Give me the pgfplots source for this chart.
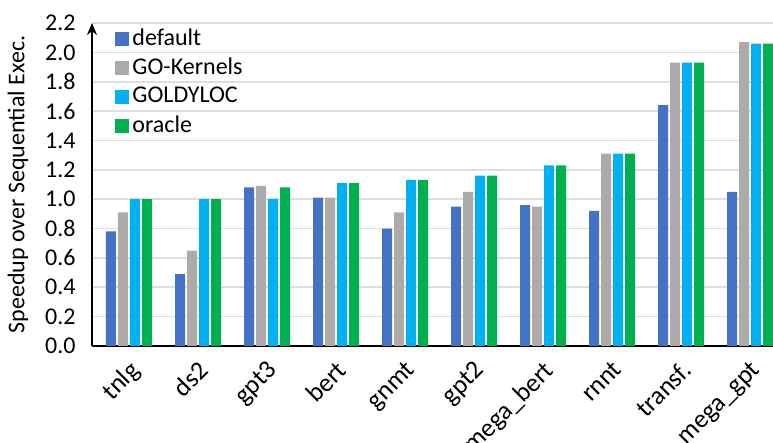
\documentclass[border=0pt]{standalone}
\usepackage{fontspec}
\setmainfont{Carlito}
\usepackage{pgfplots}
\pgfplotsset{compat=1.18}
\usetikzlibrary{arrows.meta}
\definecolor{cdef}{HTML}{4472C4}
\definecolor{cgo}{HTML}{AEAAAA}
\definecolor{cgold}{HTML}{00B0F0}
\definecolor{cor}{HTML}{00B050}
\begin{document}
\begin{tikzpicture}
\fontsize{12}{14}\selectfont
\useasboundingbox (0,0) rectangle (386.5pt,221.5pt);
\begin{axis}[
  at={(46pt,48.5pt)}, anchor=south west,
  scale only axis, width=340.5pt, height=161.5pt,
  xmin=-0.536, xmax=9.33, ymin=0, ymax=2.2,
  ybar, bar width=0.145,
  xtick={0,1,2,3,4,5,6,7,8,9},
  xticklabels={tnlg,ds2,gpt3,bert,gnmt,gpt2,mega\_bert,rnnt,transf.,mega\_gpt},
  ytick={0,0.2,0.4,0.6,0.8,1.0,1.2,1.4,1.6,1.8,2.0,2.2},
  axis x line=bottom, axis y line=left,
  x axis line style={-, line width=1.3pt},
  y axis line style={line width=1pt, -{Stealth[length=6pt,width=5pt]}},
  ymajorgrids, grid style={line width=0.8pt, black!13},
  major tick length=0pt,
  tick label style={font=\fontsize{12}{14}\selectfont},
  /pgf/number format/assume math mode=true,
  yticklabel style={/pgf/number format/fixed, /pgf/number format/fixed zerofill, /pgf/number format/precision=1, xshift=-4pt},
  xticklabel style={font=\fontsize{13}{15}\selectfont, inner sep=0pt, xshift=-0.5pt, yshift=-6.5pt, rotate=45, anchor=north east},
  ylabel={Speedup over Sequential Exec.},
  ylabel style={at={(axis description cs:-0.1087,0.5)}, anchor=center, font=\fontsize{12}{14}\selectfont},
  legend cell align=left,
  legend image code/.code={\fill[#1] (0pt,-3.5pt) rectangle (7pt,3.5pt);},
  legend style={at={(0.025,1.005)}, anchor=north west, draw=none, fill=none,
    font=\fontsize{12}{14}\selectfont, row sep=1.5pt, nodes={inner sep=1.5pt}},
]
\addplot[fill=cdef, draw=none, bar shift=-0.261] coordinates {(0,0.78) (1,0.49) (2,1.08) (3,1.01) (4,0.80) (5,0.95) (6,0.96) (7,0.92) (8,1.64) (9,1.05)};
\addplot[fill=cgo, draw=none, bar shift=-0.087] coordinates {(0,0.91) (1,0.65) (2,1.09) (3,1.01) (4,0.91) (5,1.05) (6,0.95) (7,1.31) (8,1.93) (9,2.07)};
\addplot[fill=cgold, draw=none, bar shift=0.087] coordinates {(0,1.0) (1,1.0) (2,1.0) (3,1.11) (4,1.13) (5,1.16) (6,1.23) (7,1.31) (8,1.93) (9,2.06)};
\addplot[fill=cor, draw=none, bar shift=0.261] coordinates {(0,1.0) (1,1.0) (2,1.08) (3,1.11) (4,1.13) (5,1.16) (6,1.23) (7,1.31) (8,1.93) (9,2.06)};
\legend{default,GO-Kernels,GOLDYLOC,oracle}
\end{axis}
\end{tikzpicture}
\end{document}
